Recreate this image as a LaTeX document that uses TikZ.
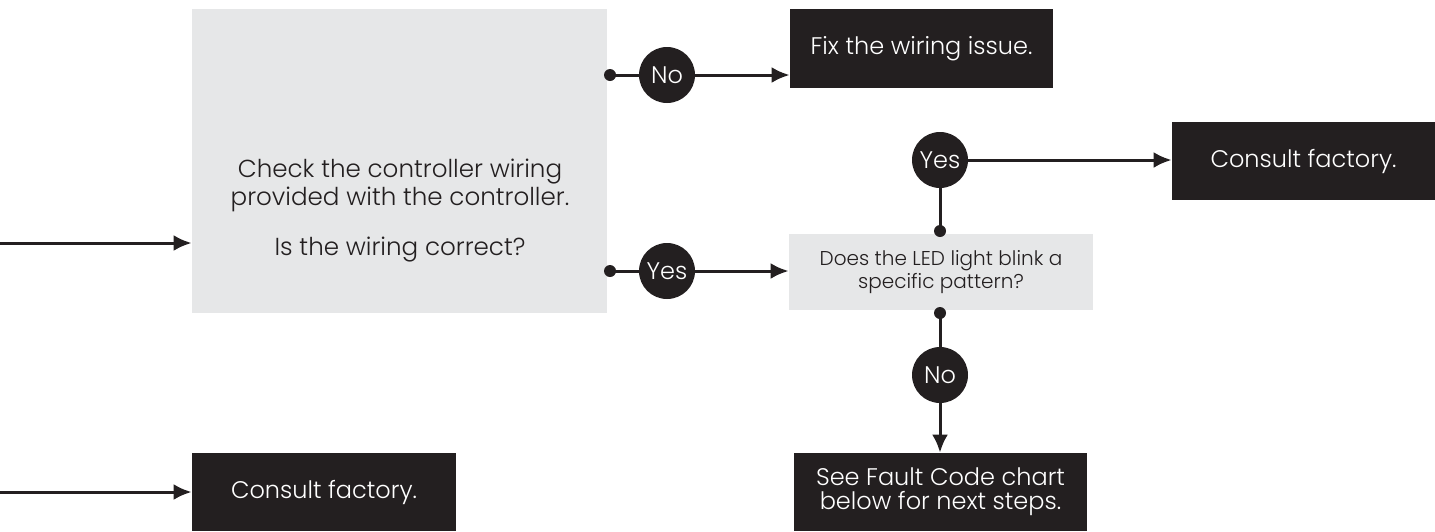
\documentclass[tikz,border=0pt]{standalone}
\usepackage{fontspec}
\setmainfont{Poppins Light}
\usetikzlibrary{arrows.meta}
\definecolor{ink}{HTML}{231F20}
\definecolor{pale}{HTML}{E6E7E8}
\tikzset{
  darkbox/.style={fill=ink, draw=none, text=white, align=center, font=\fontsize{12}{11.8}\selectfont, inner sep=0pt},
  graybox/.style={fill=pale, draw=none, text=ink, align=center, font=\fontsize{10}{11.8}\selectfont, inner sep=0pt},
  txt/.style={text=ink, align=center, font=\fontsize{12.3}{12}\selectfont},
  badge/.style={circle, fill=ink, text=white, minimum size=28pt, inner sep=0pt, font=\fontsize{12}{12}\selectfont},
  dot/.style={circle, fill=ink, minimum size=6pt, inner sep=0pt},
  conn/.style={draw=ink, line width=1.5pt},
  arr/.style={conn, -{Latex[length=9pt,width=8pt]}}
}
\begin{document}
\begin{tikzpicture}[x=0.5pt,y=-0.5pt]
\useasboundingbox (0,0) rectangle (1435,531);
% boxes
\node[graybox, minimum width=207.5pt, minimum height=152pt] (big) at (399.5,161) {};
\node[txt] (bigtxt) at (400,211) {Check the controller wiring\\provided with the controller.\\[12pt]Is the wiring correct?};
\node[darkbox, minimum width=131.5pt, minimum height=39.5pt] (fix) at (921.5,48.5) {Fix the wiring issue.};
\node[darkbox, minimum width=131.5pt, minimum height=39pt] (cf1) at (1303.5,161) {Consult factory.};
\node[graybox, minimum width=152pt, minimum height=38pt] (led) at (941,272) {Does the LED light blink a\\specific pattern?};
\node[darkbox, minimum width=146.5pt, minimum height=39pt] (fault) at (940.5,492) {See Fault Code chart\\below for next steps.};
\node[darkbox, minimum width=132pt, minimum height=39pt] (cf2) at (324,492) {Consult factory.};
% badges
\node[badge] (no1) at (667,75) {No};
\node[badge] (yes1) at (667,271) {Yes};
\node[badge] (yes2) at (940,160) {Yes};
\node[badge] (no2) at (940,375) {No};
% dots
\node[dot] (d1) at (610,75) {};
\node[dot] (d2) at (610,271) {};
\node[dot] (d3) at (940,231) {};
\node[dot] (d4) at (940,313) {};
% free ends
\coordinate (in1) at (0,243);
\coordinate (in2) at (0,492);
% connectors
\draw[arr] (in1) -- (in1 -| big.west);
\draw[arr] (in2) -- (in2 -| cf2.west);
\draw[conn] (d1.center) -- (no1);
\draw[arr] (no1) -- (no1 -| fix.west);
\draw[conn] (d2.center) -- (yes1);
\draw[arr] (yes1) -- (yes1 -| led.west);
\draw[arr] (yes2) -- (yes2 -| cf1.west);
\draw[conn] (yes2) -- (d3.center);
\draw[conn] (d4.center) -- (no2);
\draw[arr] (no2) -- (no2 |- fault.north);
\end{tikzpicture}
\end{document}
